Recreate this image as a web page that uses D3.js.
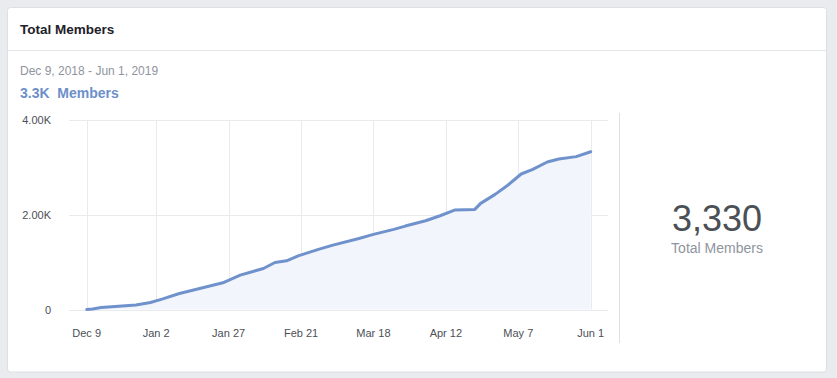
<!DOCTYPE html>
<html>
<head>
<meta charset="utf-8">
<script src="https://cdn.jsdelivr.net/npm/d3@7"></script>
<style>
  body { margin: 0; background: #e9ebee; font-family: "Liberation Sans", Arial, Helvetica, sans-serif; }
  svg { display: block; }
</style>
</head>
<body>
<svg id="chart"></svg>
<script>
// members over time
const dates = ["2018-12-09","2018-12-11","2018-12-14","2018-12-20","2018-12-26","2018-12-31",
  "2019-01-04","2019-01-10","2019-01-17","2019-01-25","2019-01-31","2019-02-08","2019-02-12",
  "2019-02-16","2019-02-20","2019-02-27","2019-03-04","2019-03-13","2019-03-18","2019-03-25",
  "2019-03-29","2019-04-05","2019-04-10","2019-04-15","2019-04-22","2019-04-24","2019-04-29",
  "2019-05-03","2019-05-08","2019-05-12","2019-05-17","2019-05-21","2019-05-27","2019-06-01"];
const members = [0,10,40,70,97,148,
  218,338,444,563,725,866,993,
  1027,1133,1270,1359,1500,1585,1691,
  1761,1873,1979,2099,2113,2240,2430,
  2606,2860,2959,3114,3178,3227,3330];
const xTicks = ["2018-12-09","2019-01-02","2019-01-27","2019-02-21","2019-03-18","2019-04-12","2019-05-07","2019-06-01"];
const yTicks = [0, 2000, 4000];

const width = 837, height = 378;
const parse = d3.utcParse("%Y-%m-%d");
const data = dates.map((d,i)=>({date: parse(d), value: members[i]}));

var svg = d3.select("#chart").attr("width",width).attr("height",height);

// card
svg.append("rect")
  .attr("x",7.5).attr("y",7.5).attr("width",819).attr("height",364.5)
  .attr("rx",3)
  .attr("fill","#fff").attr("stroke","#dddfe2");
svg.append("line")
  .attr("x1",8).attr("x2",826).attr("y1",50.5).attr("y2",50.5)
  .attr("stroke","#e5e6e9");

svg.append("text").attr("x",20).attr("y",34)
  .attr("font-size","13.5px").attr("font-weight","bold").attr("fill","#1d2129")
  .text("Total Members");
svg.append("text").attr("x",20).attr("y",75)
  .attr("font-size","12px").attr("fill","#90949c")
  .text("Dec 9, 2018 - Jun 1, 2019");
svg.append("text").attr("x",20).attr("y",97.5)
  .attr("font-size","14px").attr("font-weight","bold").attr("fill","#6d8fca")
  .attr("xml:space","preserve")
  .text("3.3K  Members");

var xScale = d3.scaleUtc()
  .domain([parse("2018-12-09"), parse("2019-06-01")])
  .range([86.7, 590.7]);
var yScale = d3.scaleLinear().domain([0,4000]).range([309.5,120]);

// gridlines
svg.append("g").selectAll("line")
  .data(yTicks).enter().append("line")
  .attr("x1",69).attr("x2",608)
  .attr("y1",d=>Math.round(yScale(d))+0.5).attr("y2",d=>Math.round(yScale(d))+0.5)
  .attr("stroke","#e9eaed");
svg.append("g").selectAll("line")
  .data(xTicks).enter().append("line")
  .attr("x1",d=>Math.round(xScale(parse(d)))+0.5).attr("x2",d=>Math.round(xScale(parse(d)))+0.5)
  .attr("y1",120).attr("y2",309.5)
  .attr("stroke","#e9eaed");

// area + line
var area = d3.area().x(d=>xScale(d.date)).y0(yScale(0)).y1(d=>yScale(d.value));
var line = d3.line().x(d=>xScale(d.date)).y(d=>yScale(d.value));

svg.append("path").datum(data).attr("d",area).attr("fill","#f2f5fb");
svg.append("path").datum(data).attr("d",line)
  .attr("fill","none").attr("stroke","#7092cc").attr("stroke-width",3)
  .attr("stroke-linejoin","round").attr("stroke-linecap","round");

// axis labels
var fmtY = d => d === 0 ? "0" : (d/1000).toFixed(2) + "K";
svg.append("g").selectAll("text")
  .data(yTicks).enter().append("text")
  .attr("x",51).attr("y",d=>yScale(d)+4)
  .attr("text-anchor","end").attr("font-size","11px").attr("fill","#4b4f56")
  .text(fmtY);
var fmtX = d3.utcFormat("%b %-d");
svg.append("g").selectAll("text")
  .data(xTicks).enter().append("text")
  .attr("x",d=>xScale(parse(d))).attr("y",337)
  .attr("text-anchor","middle").attr("font-size","11px").attr("fill","#4b4f56")
  .text(d=>fmtX(parse(d)));

// divider + summary
svg.append("line")
  .attr("x1",619.5).attr("x2",619.5).attr("y1",113).attr("y2",343)
  .attr("stroke","#dddfe2");
svg.append("text").attr("x",717).attr("y",230.5)
  .attr("text-anchor","middle").attr("font-size","36px").attr("fill","#4b4f56")
  .text(d3.format(",")(members[members.length-1]));
svg.append("text").attr("x",717).attr("y",253)
  .attr("text-anchor","middle").attr("font-size","14px").attr("fill","#90949c")
  .text("Total Members");
</script>
</body>
</html>
